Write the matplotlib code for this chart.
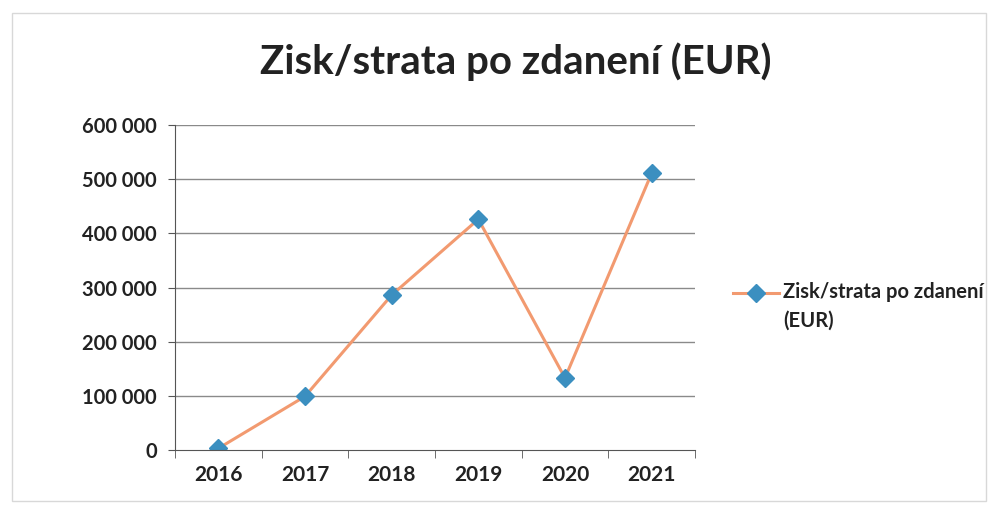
import matplotlib.pyplot as plt
import matplotlib.patches as mpatches
from matplotlib.lines import Line2D
import numpy as np

years = ["2016", "2017", "2018", "2019", "2020", "2021"]
values = [3000, 99000, 286000, 426000, 133000, 511000]
yticks = [0, 100000, 200000, 300000, 400000, 500000, 600000]
ytick_labels = ["0", "100 000", "200 000", "300 000", "400 000", "500 000", "600 000"]
title = "Zisk/strata po zdanení (EUR)"
series_label = "Zisk/strata po zdanení\n(EUR)"

plt.rcParams['font.family'] = ['Lato', 'DejaVu Sans']

line_color = '#f29a70'
marker_color = '#3b8fc0'

fig = plt.figure(figsize=(9.96, 5.19), dpi=100)
fig.patch.set_facecolor('white')
# faint chart border
fig.add_artist(mpatches.Rectangle((0.012, 0.035), 0.978, 0.94, transform=fig.transFigure,
                                  fill=False, edgecolor='#d8d8d8', linewidth=1.0))

ax = fig.add_axes([175/996, 1-450/519, 520/996, 325/519])
x = np.arange(len(years))
ax.set_xlim(-0.5, len(years) - 0.5)
ax.set_ylim(0, 600000)

for yt in yticks[1:]:
    ax.axhline(yt, color='#8a8a8a', linewidth=1.0, zorder=1)

ax.plot(x, values, color=line_color, linewidth=2.2, zorder=2,
        marker='D', markersize=9, markerfacecolor=marker_color, markeredgecolor=marker_color)

ax.set_yticks(yticks)
ax.set_yticklabels(ytick_labels, fontsize=14.5, fontweight='bold', color='#222222')
ax.set_xticks(x)
ax.set_xticklabels(years, fontsize=15, fontweight='bold', color='#222222')
ax.set_xticks(np.arange(-0.5, len(years)), minor=True)
ax.tick_params(axis='x', which='major', length=0, pad=11)
ax.tick_params(axis='x', which='minor', length=6, direction='out', color='#555555')
ax.tick_params(axis='y', which='major', length=5, direction='out', color='#555555', pad=8)

for s in ['top', 'right']:
    ax.spines[s].set_visible(False)
ax.spines['left'].set_color('#555555')
ax.spines['bottom'].set_color('#555555')

fig.text(516/996, 1-62/519, title, ha='center', va='center', fontsize=29, fontweight='bold', color='#222222')

# legend (handle aligned with first text line, like Excel)
ly = 1 - 293/519
fig.add_artist(Line2D([733/996, 779/996], [ly, ly], transform=fig.transFigure,
                      color=line_color, linewidth=2.2))
fig.add_artist(Line2D([756/996], [ly], transform=fig.transFigure, linestyle='none',
                      marker='D', markersize=9, markerfacecolor=marker_color,
                      markeredgecolor=marker_color))
fig.text(783/996, 1 - 282/519, series_label, ha='left', va='top', fontsize=14.5,
         fontweight='bold', color='#222222', linespacing=1.55)

fig.savefig('out.png', dpi=100, facecolor='white')
